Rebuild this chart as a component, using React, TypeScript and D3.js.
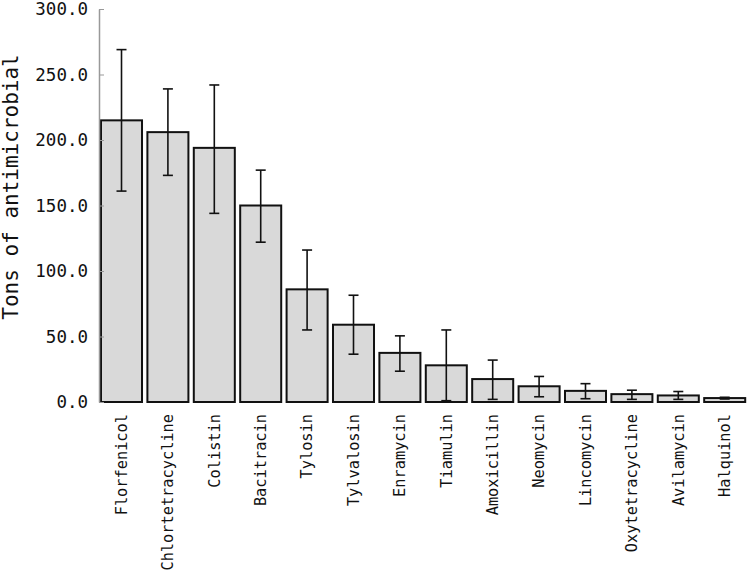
import * as d3 from 'd3';
import { FC, useEffect, useRef } from 'react';

const drugs = [
  'Florfenicol',
  'Chlortetracycline',
  'Colistin',
  'Bacitracin',
  'Tylosin',
  'Tylvalosin',
  'Enramycin',
  'Tiamulin',
  'Amoxicillin',
  'Neomycin',
  'Lincomycin',
  'Oxytetracycline',
  'Avilamycin',
  'Halquinol',
];
const tons = [215, 206, 194, 150, 86, 59, 37.5, 28, 17.5, 12, 8.5, 6, 5, 3];
const errLow = [161, 173, 144, 122, 55, 36.5, 23.5, 1, 2, 4, 2.5, 2, 2, 2.3];
const errHigh = [269, 239, 242, 177, 116, 81.5, 50.5, 55, 32, 19.5, 14, 9, 8, 3.6];
const yTicks = [0, 50, 100, 150, 200, 250, 300];

const W = 750;
const H = 576;
const FONT = '"DejaVu Sans Mono", monospace';

const App: FC = () => {
  const ref = useRef<SVGSVGElement>(null);

  useEffect(() => {
    drawChart();
  }, []);

  const drawChart = () => {
    const svg = d3.select(ref.current);
    svg.selectAll('*').remove();

    const left = 99;
    const right = 747.2;
    const top = 9;
    const bottom = 402;

    const x = d3
      .scaleBand<string>()
      .domain(drugs)
      .range([left, right])
      .paddingInner(0.116)
      .paddingOuter(0.043);

    const y = d3.scaleLinear().domain([0, 300]).range([bottom, top]);

    const rows = drugs.map((d, i) => ({
      name: d,
      value: tons[i],
      lo: errLow[i],
      hi: errHigh[i],
    }));

    // bars
    svg
      .append('g')
      .selectAll('rect')
      .data(rows)
      .enter()
      .append('rect')
      .attr('x', (d) => x(d.name)!)
      .attr('y', (d) => y(d.value))
      .attr('width', x.bandwidth())
      .attr('height', (d) => y(0) - y(d.value))
      .style('fill', '#d9d9d9')
      .style('stroke', '#111')
      .style('stroke-width', '2px');

    // error bars
    const err = svg
      .append('g')
      .selectAll('g')
      .data(rows)
      .enter()
      .append('g')
      .attr('transform', (d) => `translate(${x(d.name)! + x.bandwidth() / 2},0)`)
      .style('stroke', '#111')
      .style('stroke-width', '1.6px');

    err
      .append('line')
      .attr('y1', (d) => y(d.lo))
      .attr('y2', (d) => y(d.hi));
    err
      .append('line')
      .attr('x1', -5)
      .attr('x2', 5)
      .attr('y1', (d) => y(d.hi))
      .attr('y2', (d) => y(d.hi));
    err
      .append('line')
      .attr('x1', -5)
      .attr('x2', 5)
      .attr('y1', (d) => y(d.lo))
      .attr('y2', (d) => y(d.lo));

    // y axis
    const yAxis = svg
      .append('g')
      .attr('transform', `translate(${left},0)`)
      .call(
        d3
          .axisLeft(y)
          .tickValues(yTicks)
          .tickFormat(d3.format('.1f'))
          .tickSizeInner(-5)
          .tickSizeOuter(0)
          .tickPadding(11)
      );
    yAxis.select('.domain').style('stroke', '#999').style('stroke-width', '1.5px');
    yAxis.selectAll('.tick line').style('stroke', '#999');
    yAxis
      .selectAll('text')
      .style('font-family', FONT)
      .style('font-size', '17.5px')
      .style('fill', '#111');

    // x labels
    svg
      .append('g')
      .selectAll('text')
      .data(drugs)
      .enter()
      .append('text')
      .attr(
        'transform',
        (d) => `translate(${x(d)! + x.bandwidth() / 2},${bottom + 12}) rotate(-90)`
      )
      .attr('dy', '0.35em')
      .style('text-anchor', 'end')
      .style('font-family', FONT)
      .style('font-size', '15.3px')
      .style('fill', '#111')
      .text((d) => d);

    // y title
    svg
      .append('text')
      .attr('transform', `translate(18,187) rotate(-90)`)
      .style('text-anchor', 'middle')
      .style('font-family', FONT)
      .style('font-size', '21px')
      .style('fill', '#111')
      .text('Tons of antimicrobial');
  };

  return (
    <svg
      ref={ref}
      width={W}
      height={H}
      style={{ position: 'absolute', left: 0, top: 0, background: '#fff' }}
    />
  );
};

export default App;
